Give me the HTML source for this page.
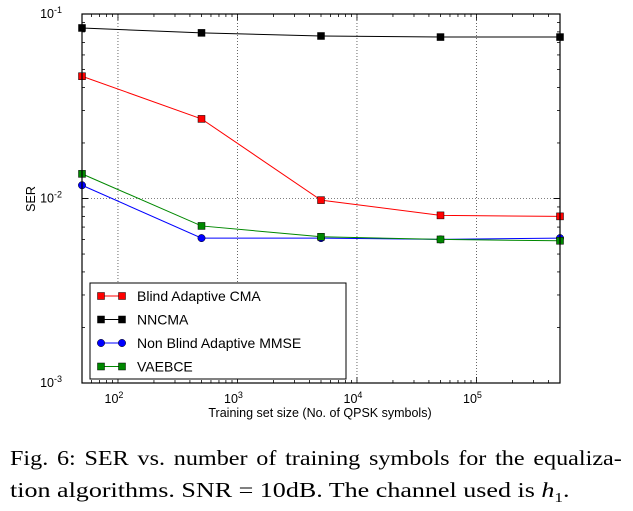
<!DOCTYPE html>
<html><head><meta charset="utf-8"><style>
body{margin:0;background:#fff;width:633px;height:510px;overflow:hidden}
.cap{position:absolute;left:10px;font-family:"Liberation Serif",serif;font-size:21px;line-height:24px;color:#000;white-space:nowrap;transform-origin:0 0}
.l1{top:446px;width:532px;text-align:justify;text-align-last:justify;transform:scaleX(1.15)}
.l2{top:478px;transform:scaleX(1.24)}
</style></head><body>
<svg id="chart" width="633" height="440" style="position:absolute;left:0;top:0" font-family="Liberation Sans, sans-serif"></svg>
<div class="cap l1">Fig. 6: SER vs. number of training symbols for the equaliza-</div>
<div class="cap l2">tion algorithms. SNR = 10dB. The channel used is <i>h</i><sub style="font-size:14px">1</sub>.</div>
<script>
const xs=[50,500,5000,50000,500000];
const cma=[0.046,0.027,0.0098,0.0081,0.0080];
const nncma=[0.084,0.079,0.076,0.075,0.075];
const mmse=[0.0118,0.0061,0.0061,0.0060,0.0061];
const vae=[0.0136,0.0071,0.0062,0.0060,0.0059];
const xTicks=[100,1000,10000,100000];
const xTickLabels=["2","3","4","5"];
const yTicks=[0.1,0.01,0.001];
const yTickLabels=["-1","-2","-3"];
const L=82,R=560,T=14,B=383;
const X=v=>L+(Math.log10(v)-Math.log10(50))/(Math.log10(500000)-Math.log10(50))*(R-L);
const Y=v=>T+(-1-Math.log10(v))/2*(B-T);
const svg=document.getElementById('chart');const NS='http://www.w3.org/2000/svg';
function el(t,a,p){const e=document.createElementNS(NS,t);for(const k in a)e.setAttribute(k,a[k]);(p||svg).appendChild(e);return e;}
xTicks.forEach(v=>{const g=el('line',{x1:X(v),x2:X(v),y1:T,y2:B,stroke:'#000','stroke-width':0.6,'stroke-dasharray':'1,2'});
});
yTicks.forEach(v=>{const g=el('line',{x1:L,x2:R,y1:Y(v),y2:Y(v),stroke:'#000','stroke-width':0.6,'stroke-dasharray':'1,2'});
});
for(let d=1;d<=5;d++)for(let m=1;m<10;m++){const v=Math.pow(10,d)*m;if(v<50||v>500000)continue;const x=X(v),len=m==1?6:3;
el('line',{x1:x,x2:x,y1:B,y2:B-len,stroke:'#000','stroke-width':0.8});el('line',{x1:x,x2:x,y1:T,y2:T+len,stroke:'#000','stroke-width':0.8});}
for(let d=-3;d<=-2;d++)for(let m=1;m<=10;m++){const v=Math.pow(10,d)*m;const y=Y(v),len=(m==1||m==10)?6:3;
el('line',{x1:L,x2:L+len,y1:y,y2:y,stroke:'#000','stroke-width':0.8});el('line',{x1:R,x2:R-len,y1:y,y2:y,stroke:'#000','stroke-width':0.8});}
xTicks.forEach((v,i)=>{const t=el('text',{x:X(v)-4,y:B+20,'font-size':12.5,'text-anchor':'middle'});t.innerHTML='10<tspan dy="-5" font-size="9">'+xTickLabels[i]+'</tspan>';
});
yTicks.forEach((v,i)=>{const t=el('text',{x:L-20,y:Y(v)+4,'font-size':12.5,'text-anchor':'end'});t.innerHTML='10<tspan dy="-5" font-size="9">'+yTickLabels[i]+'</tspan>';
});
const xt=el('text',{x:320,y:417,'font-size':12.5,'text-anchor':'middle'});xt.textContent='Training set size (No. of QPSK symbols)';

const yt=el('text',{x:0,y:0,'font-size':12.5,'text-anchor':'middle',transform:'translate(35,199) rotate(-90)'});yt.textContent='SER';

const series=[[cma,'#f00','sq','cma'],[nncma,'#000','sq','nncma'],[mmse,'#00f','ci','mmse'],[vae,'#080','sq','vaebce']];
function marker(x,y,c,s,nm){let m;if(s=='sq')m=el('rect',{x:x-3.5,y:y-3.5,width:7,height:7,fill:c,stroke:'#000','stroke-width':0.5});
else m=el('circle',{cx:x,cy:y,r:3.7,fill:c,stroke:'#000','stroke-width':0.5});
}
series.forEach(([d,c,s,n])=>{const p=el('polyline',{points:d.map((v,i)=>X(xs[i])+','+Y(v)).join(' '),fill:'none',stroke:c,'stroke-width':1});

d.forEach((v,i)=>marker(X(xs[i]),Y(v),c,s,n+'-point'));});
el('rect',{x:L,y:T,width:R-L,height:B-T,fill:'none',stroke:'#000','stroke-width':1.2});
const lg=el('g',{});
el('rect',{x:90,y:283,width:256,height:96,fill:'#fff',stroke:'#000','stroke-width':1},lg);
const names=['Blind Adaptive CMA','NNCMA','Non Blind Adaptive MMSE','VAEBCE'];
series.forEach(([d,c,s,n],i)=>{const y=296+i*23.5;el('line',{x1:101,x2:122,y1:y,y2:y,stroke:c,'stroke-width':1},lg);
marker(101,y,c,s,'legend-marker');marker(122,y,c,s,'legend-marker');
const t=el('text',{x:137,y:y+5,'font-size':14},lg);t.textContent=names[i];
});
</script>
</body></html>
